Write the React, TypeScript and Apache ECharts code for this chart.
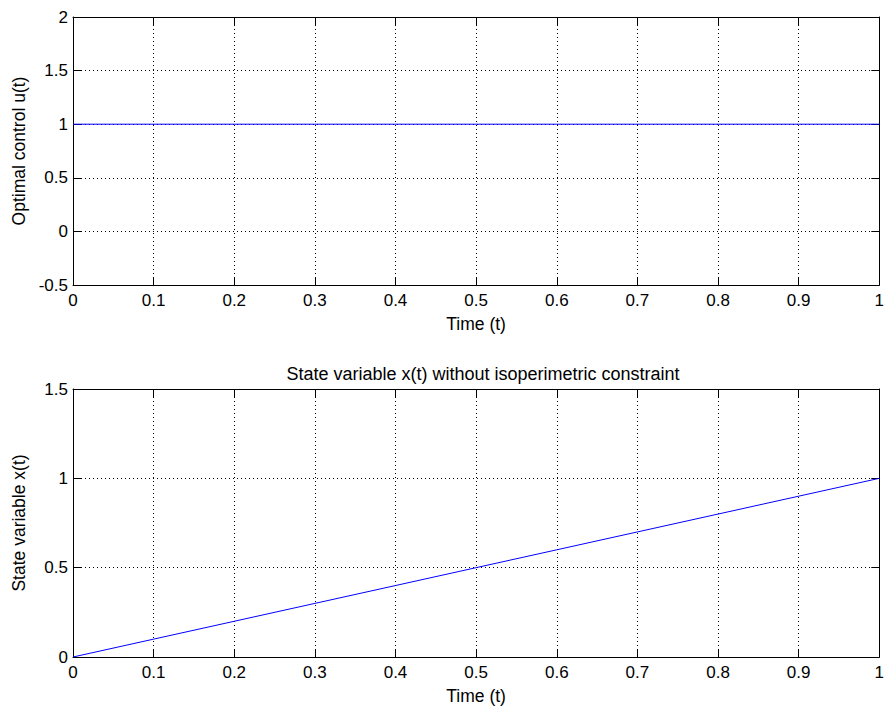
import React, { useEffect, useRef } from "react";
import * as echarts from "echarts";

const timeU = [0, 0.1, 0.2, 0.3, 0.4, 0.5, 0.6, 0.7, 0.8, 0.9, 1];
const controlU = [1, 1, 1, 1, 1, 1, 1, 1, 1, 1, 1];
const timeX = [0, 0.1, 0.2, 0.3, 0.4, 0.5, 0.6, 0.7, 0.8, 0.9, 1];
const stateX = [0, 0.1, 0.2, 0.3, 0.4, 0.5, 0.6, 0.7, 0.8, 0.9, 1];

const bottomTitle = "State variable x(t) without isoperimetric constraint";
const xName = "Time (t)";
const yNameTop = "Optimal control u(t)";
const yNameBottom = "State variable x(t)";

const FONT = "Liberation Sans, Arial, sans-serif";

export default function App() {
  const ref = useRef<HTMLDivElement>(null);
  useEffect(() => {
    document.body.style.margin = "0";
    const chart = echarts.init(ref.current!, undefined, { renderer: "svg" });
    const tickText = { fontFamily: FONT, fontSize: 17, color: "#000" };
    const nameText = { fontFamily: FONT, fontSize: 17.5, color: "#000" };
    const axisLine = { show: true, onZero: false, lineStyle: { color: "#000", width: 1 } };
    const tick = { show: true, inside: true, length: 8, lineStyle: { color: "#000" } };
    const split = { show: true, lineStyle: { color: "#000", type: [1, 3] as any, width: 1 } };

    const mkX = (gridIndex: number, main: boolean) => ({
      type: "value",
      gridIndex,
      min: 0,
      max: 1,
      interval: 0.1,
      position: main ? "bottom" : "top",
      name: main ? xName : "",
      nameLocation: "middle",
      nameGap: 30,
      nameTextStyle: nameText,
      axisLine,
      axisTick: tick,
      axisLabel: main ? { ...tickText, margin: 7 } : { show: false },
      splitLine: main ? split : { show: false },
    });
    const mkY = (gridIndex: number, main: boolean, min: number, max: number, name: string) => ({
      type: "value",
      gridIndex,
      min,
      max,
      interval: 0.5,
      position: main ? "left" : "right",
      name: main ? name : "",
      nameLocation: "middle",
      nameGap: 45,
      nameTextStyle: nameText,
      axisLine,
      axisTick: tick,
      axisLabel: main ? { ...tickText, margin: 5 } : { show: false },
      splitLine: main ? split : { show: false },
    });

    chart.setOption({
      animation: false,
      backgroundColor: "#fff",
      title: [
        {
          text: bottomTitle,
          left: 478,
          top: 360,
          textAlign: "center",
          textStyle: { fontFamily: FONT, fontSize: 18, color: "#000", fontWeight: "normal" },
        },
      ],
      grid: [
        { left: 73, top: 17, width: 811, height: 268 },
        { left: 73, top: 389, width: 811, height: 268 },
      ],
      xAxis: [mkX(0, true), mkX(0, false), mkX(1, true), mkX(1, false)],
      yAxis: [
        mkY(0, true, -0.5, 2, yNameTop),
        mkY(0, false, -0.5, 2, ""),
        mkY(1, true, 0, 1.5, yNameBottom),
        mkY(1, false, 0, 1.5, ""),
      ],
      series: [
        {
          type: "line",
          xAxisIndex: 0,
          yAxisIndex: 0,
          data: timeU.map((t, i) => [t, controlU[i]]),
          showSymbol: false,
          lineStyle: { color: "#0000ff", width: 1 },
        },
        {
          type: "line",
          xAxisIndex: 2,
          yAxisIndex: 2,
          data: timeX.map((t, i) => [t, stateX[i]]),
          showSymbol: false,
          lineStyle: { color: "#0000ff", width: 1 },
        },
      ],
    });
    return () => chart.dispose();
  }, []);
  return <div ref={ref} style={{ width: 887, height: 707 }} />;
}
